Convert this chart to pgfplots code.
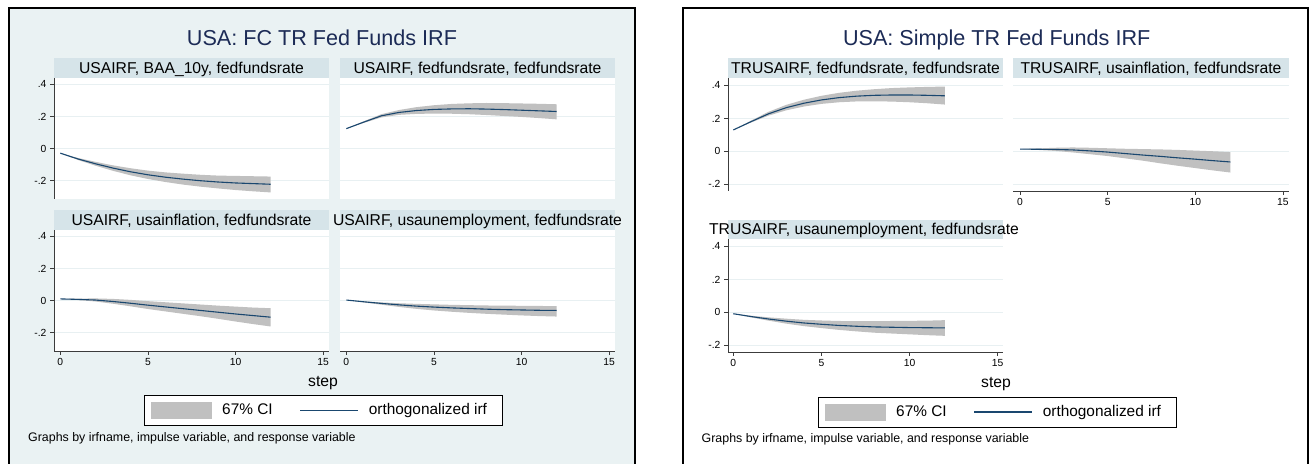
\documentclass[border=0pt]{standalone}
\usepackage{pgfplots}
\pgfplotsset{compat=1.18}
\usepackage{pgfplotstable}
\usepackage{fontspec}
\setmainfont{Liberation Sans}

\definecolor{bgc}{RGB}{234,242,243}
\definecolor{hdr}{RGB}{214,228,233}
\definecolor{gridc}{RGB}{232,240,242}
\definecolor{cigray}{RGB}{192,192,192}
\definecolor{irfc}{RGB}{26,71,111}
\definecolor{titc}{RGB}{28,43,86}
\definecolor{axc}{RGB}{60,60,60}

% columns: step, irf, lower bound, upper bound, band width (hi-lo)
% ---------- FC TR (left graph) ----------
\pgfplotstableread{
step irf lo hi w
0 -0.029 -0.029 -0.029 0
1 -0.065 -0.071 -0.059 0.012
2 -0.095 -0.107 -0.083 0.024
3 -0.122 -0.139 -0.105 0.034
4 -0.145 -0.167 -0.123 0.044
5 -0.164 -0.190 -0.138 0.052
6 -0.179 -0.209 -0.149 0.060
7 -0.191 -0.225 -0.157 0.068
8 -0.201 -0.238 -0.164 0.074
9 -0.209 -0.249 -0.169 0.080
10 -0.215 -0.259 -0.171 0.088
11 -0.219 -0.267 -0.173 0.094
12 -0.223 -0.274 -0.175 0.099
}\tA
\pgfplotstableread{
step irf lo hi w
0 0.124 0.124 0.124 0
1 0.165 0.160 0.170 0.010
2 0.204 0.194 0.214 0.020
3 0.225 0.210 0.240 0.030
4 0.237 0.216 0.258 0.042
5 0.244 0.218 0.270 0.052
6 0.247 0.217 0.278 0.061
7 0.248 0.214 0.282 0.068
8 0.246 0.209 0.284 0.075
9 0.243 0.203 0.283 0.080
10 0.239 0.197 0.281 0.084
11 0.235 0.190 0.279 0.089
12 0.231 0.182 0.276 0.094
}\tB
\pgfplotstableread{
step irf lo hi w
0 0.010 0.010 0.010 0
1 0.007 0.003 0.012 0.009
2 0.003 -0.006 0.013 0.019
3 -0.006 -0.020 0.010 0.030
4 -0.017 -0.036 0.004 0.040
5 -0.029 -0.053 -0.004 0.049
6 -0.040 -0.068 -0.011 0.057
7 -0.051 -0.083 -0.018 0.065
8 -0.062 -0.098 -0.025 0.073
9 -0.073 -0.114 -0.032 0.082
10 -0.084 -0.131 -0.038 0.093
11 -0.094 -0.147 -0.044 0.103
12 -0.104 -0.162 -0.048 0.114
}\tC
\pgfplotstableread{
step irf lo hi w
0 0.003 0.003 0.003 0
1 -0.008 -0.012 -0.005 0.007
2 -0.018 -0.026 -0.012 0.014
3 -0.027 -0.040 -0.017 0.023
4 -0.035 -0.052 -0.021 0.031
5 -0.041 -0.062 -0.024 0.038
6 -0.046 -0.070 -0.027 0.043
7 -0.050 -0.077 -0.029 0.048
8 -0.054 -0.083 -0.031 0.052
9 -0.057 -0.088 -0.032 0.056
10 -0.059 -0.093 -0.033 0.060
11 -0.061 -0.097 -0.034 0.063
12 -0.062 -0.100 -0.035 0.065
}\tD
% ---------- Simple TR (right graph) ----------
\pgfplotstableread{
step irf lo hi w
0 0.130 0.130 0.130 0
1 0.180 0.175 0.186 0.011
2 0.228 0.217 0.240 0.023
3 0.265 0.249 0.282 0.033
4 0.292 0.272 0.313 0.041
5 0.312 0.288 0.337 0.049
6 0.326 0.298 0.355 0.057
7 0.335 0.303 0.368 0.065
8 0.340 0.304 0.377 0.073
9 0.342 0.302 0.384 0.082
10 0.342 0.298 0.388 0.090
11 0.340 0.292 0.391 0.099
12 0.337 0.284 0.393 0.109
}\tE
\pgfplotstableread{
step irf lo hi w
0 0.014 0.014 0.014 0
1 0.013 0.009 0.018 0.009
2 0.012 0.003 0.022 0.019
3 0.009 -0.006 0.024 0.030
4 0.003 -0.017 0.022 0.039
5 -0.004 -0.028 0.019 0.047
6 -0.013 -0.042 0.016 0.058
7 -0.022 -0.056 0.014 0.070
8 -0.030 -0.072 0.012 0.084
9 -0.039 -0.087 0.009 0.096
10 -0.047 -0.101 0.005 0.106
11 -0.056 -0.115 0.001 0.116
12 -0.064 -0.128 -0.004 0.124
}\tF
\pgfplotstableread{
step irf lo hi w
0 -0.008 -0.008 -0.008 0
1 -0.025 -0.030 -0.020 0.010
2 -0.040 -0.050 -0.030 0.020
3 -0.053 -0.068 -0.038 0.030
4 -0.064 -0.083 -0.045 0.038
5 -0.072 -0.095 -0.049 0.046
6 -0.079 -0.106 -0.052 0.054
7 -0.084 -0.115 -0.053 0.062
8 -0.088 -0.123 -0.053 0.070
9 -0.090 -0.128 -0.052 0.076
10 -0.092 -0.133 -0.051 0.082
11 -0.093 -0.138 -0.050 0.088
12 -0.094 -0.142 -0.047 0.095
}\tG

\pgfplotsset{
  irfpanel/.style={
    scale only axis, width=275pt, anchor=south west,
    xmin=-0.36, xmax=15.33,
    axis lines*=left,
    axis line style={draw=axc, line width=0.7pt},
    tick style={draw=axc, line width=0.7pt},
    major tick length=4pt, tick align=outside,
    xtick={0,5,10,15}, xticklabels={0,5,10,15},
    ytick={-0.2,0,0.2,0.4}, yticklabels={-.2,0,.2,.4},
    ymajorgrids, major grid style={draw=gridc, line width=0.8pt},
    tick label style={font=\fontsize{10.3}{12}\selectfont, text=black},
    /pgf/number format/assume math mode=true,
    axis background/.style={fill=white},
  },
  noxaxis/.style={x axis line style={draw=none}, xtick style={draw=none}, xticklabels={}},
  noyaxis/.style={y axis line style={draw=none}, ytick style={draw=none}, yticklabels={}},
  irflegend/.style={
    legend columns=2, legend cell align=left,
    legend style={at={#1}, anchor=west, draw=black, line width=0.8pt, fill=white,
      font=\fontsize{15.4}{18}\selectfont, inner xsep=7pt, inner ysep=6.5pt,
      nodes={inner sep=0pt, text height=11pt, text depth=3pt},
      /tikz/every odd column/.append style={column sep=10pt},
      /tikz/every even column/.append style={column sep=27pt}},
  },
}

\newcommand{\irfplots}[1]{%
  \addplot[draw=none, stack plots=y, forget plot] table[x=step,y=lo]{#1};
  \addplot[fill=cigray, draw=none, stack plots=y, forget plot] table[x=step,y=w]{#1} \closedcycle;
  \addplot[irfc, line width=1.1pt, stack plots=false, forget plot] table[x=step,y=irf]{#1};
}
\newcommand{\irflegendentries}{%
  \addlegendimage{legend image code/.code={\fill[cigray] (0pt,-8pt) rectangle (60pt,8pt);}}
  \addlegendentry{67\% CI}
  \addlegendimage{legend image code/.code={\draw[irfc, line width=1.1pt] (0pt,0pt) -- (58pt,0pt);}}
  \addlegendentry{orthogonalized irf\rule{8pt}{0pt}}
}
\newcommand{\hfont}{\fontsize{15.7}{18}\selectfont}

\begin{document}
\begin{tikzpicture}
\fill[white] (0pt,0pt) rectangle (1314pt,463pt);
% frames
\filldraw[fill=bgc, draw=black, line width=1.6pt] (9pt,-20pt) rectangle (635pt,455pt);
\filldraw[fill=white, draw=black, line width=1.6pt] (683pt,-20pt) rectangle (1308pt,455pt);
% headers
\fill[hdr] (54pt,385pt) rectangle (329pt,405pt);
\fill[hdr] (340pt,385pt) rectangle (615pt,405pt);
\fill[hdr] (54pt,233pt) rectangle (329pt,253pt);
\fill[hdr] (340pt,233pt) rectangle (615pt,253pt);
\fill[hdr] (728pt,385pt) rectangle (1003pt,405pt);
\fill[hdr] (1013pt,385pt) rectangle (1289pt,405pt);
\fill[hdr] (728pt,224pt) rectangle (1003pt,243pt);

% titles
\node[anchor=base, text=titc, font=\fontsize{21.6}{25}\selectfont] at (322pt,417pt) {USA: FC TR Fed Funds IRF};
\node[anchor=base, text=titc, font=\fontsize{21.6}{25}\selectfont] at (996.7pt,417pt) {USA: Simple TR Fed Funds IRF};

% header texts
\node[anchor=base, font=\hfont] at (191.5pt,389.7pt) {USAIRF, BAA\_10y, fedfundsrate};
\node[anchor=base, font=\hfont] at (477.5pt,389.7pt) {USAIRF, fedfundsrate, fedfundsrate};
\node[anchor=base, font=\hfont] at (191.5pt,237.3pt) {USAIRF, usainflation, fedfundsrate};
\node[anchor=base, font=\hfont] at (477.5pt,237.3pt) {USAIRF, usaunemployment, fedfundsrate};
\node[anchor=base, font=\hfont] at (865.5pt,389.7pt) {TRUSAIRF, fedfundsrate, fedfundsrate};
\node[anchor=base, font=\hfont] at (1151pt,389.7pt) {TRUSAIRF, usainflation, fedfundsrate};
\node[anchor=base, font=\hfont] at (864pt,228pt) {TRUSAIRF, usaunemployment, fedfundsrate};

% x titles
\node[anchor=base, font=\hfont] at (323pt,76pt) {step};
\node[anchor=base, font=\hfont] at (996pt,75pt) {step};

% notes
\node[anchor=base west, inner sep=0pt, font=\fontsize{12.4}{14}\selectfont] at (28pt,21pt) {Graphs by irfname, impulse variable, and response variable};
\node[anchor=base west, inner sep=0pt, font=\fontsize{12.4}{14}\selectfont] at (701.5pt,20pt) {Graphs by irfname, impulse variable, and response variable};

% ---- left graph panels ----
\begin{axis}[irfpanel, at={(54pt,264pt)}, height=121pt, ymin=-0.315, ymax=0.44, noxaxis]
\irfplots{\tA}
\end{axis}
\begin{axis}[irfpanel, at={(340pt,264pt)}, height=121pt, ymin=-0.315, ymax=0.44, noxaxis, noyaxis]
\irfplots{\tB}
\end{axis}
\begin{axis}[irfpanel, at={(54pt,112pt)}, height=121pt, ymin=-0.315, ymax=0.44,
  irflegend={(0.3273,-0.4917)}]
\irfplots{\tC}
\irflegendentries
\end{axis}
\begin{axis}[irfpanel, at={(340pt,112pt)}, height=121pt, ymin=-0.315, ymax=0.44, noyaxis]
\irfplots{\tD}
\end{axis}

% ---- right graph panels ----
\begin{axis}[irfpanel, at={(728pt,272pt)}, height=113pt, ymin=-0.24, ymax=0.445, xmin=-0.3, xmax=15.3, noxaxis]
\irfplots{\tE}
\end{axis}
\begin{axis}[irfpanel, at={(1013pt,272pt)}, height=113pt, width=276pt, ymin=-0.24, ymax=0.445, xmin=-0.4, xmax=15.35, noyaxis]
\irfplots{\tF}
\end{axis}
\begin{axis}[irfpanel, at={(728pt,111pt)}, height=113pt, ymin=-0.24, ymax=0.445, xmin=-0.3, xmax=15.3,
  irflegend={(0.3273,-0.531)}]
\irfplots{\tG}
\irflegendentries
\end{axis}
\pgfresetboundingbox
\path (0pt,0pt) rectangle (1314pt,463pt);
\end{tikzpicture}
\end{document}
